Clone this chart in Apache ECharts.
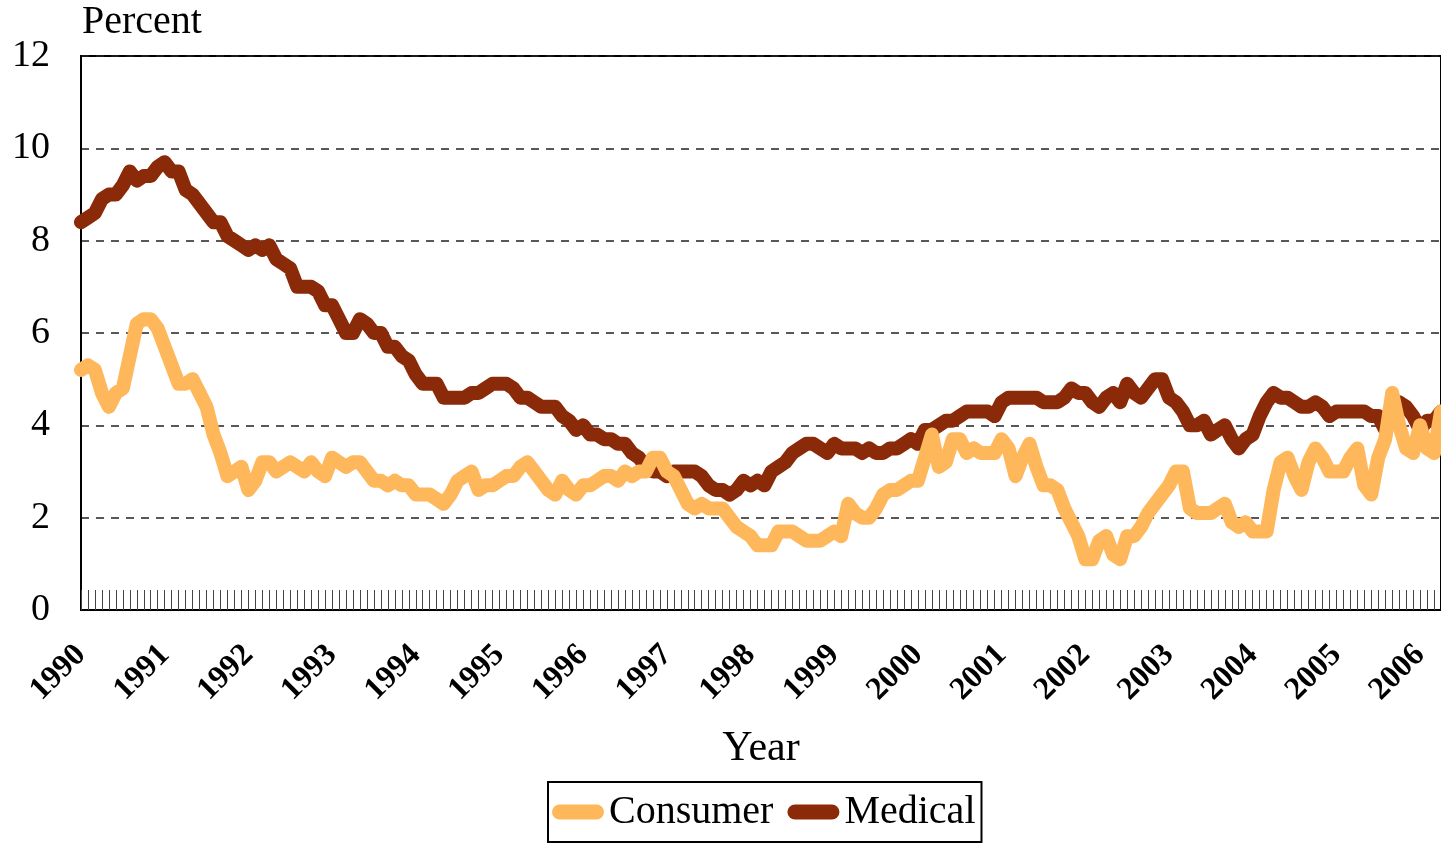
<!DOCTYPE html>
<html>
<head>
<meta charset="utf-8">
<title>Consumer vs Medical</title>
<script src="https://cdn.jsdelivr.net/npm/echarts@6/dist/echarts.min.js"></script>
<style>
  html, body { margin: 0; padding: 0; background: #fff; }
  #chart { width: 1441px; height: 843px; }
</style>
</head>
<body>
<div id="chart"></div>
<script>
// x axis: monthly from Jan 1990, one label per year
const startYear = 1990;
const monthCount = 196;
const yearLabels = ['1990', '1991', '1992', '1993', '1994', '1995', '1996', '1997', '1998',
  '1999', '2000', '2001', '2002', '2003', '2004', '2005', '2006'];
const months = [];
for (let i = 0; i < monthCount; i++) {
  const y = startYear + Math.floor(i / 12);
  const m = (i % 12) + 1;
  months.push(y + '-' + (m < 10 ? '0' + m : m));
}

const yTicks = [0, 2, 4, 6, 8, 10, 12];

// percent
const consumer = [
  5.2, 5.3, 5.2, 4.7, 4.4, 4.7, 4.8, 5.5, 6.2, 6.3, 6.3, 6.1,
  5.7, 5.3, 4.9, 4.9, 5.0, 4.7, 4.4, 3.8, 3.4, 2.9, 3.0, 3.1,
  2.6, 2.8, 3.2, 3.2, 3.0, 3.1, 3.2, 3.1, 3.0, 3.2, 3.0, 2.9,
  3.3, 3.2, 3.1, 3.2, 3.2, 3.0, 2.8, 2.8, 2.7, 2.8, 2.7, 2.7,
  2.5, 2.5, 2.5, 2.4, 2.3, 2.5, 2.8, 2.9, 3.0, 2.6, 2.7, 2.7,
  2.8, 2.9, 2.9, 3.1, 3.2, 3.0, 2.8, 2.6, 2.5, 2.8, 2.6, 2.5,
  2.7, 2.7, 2.8, 2.9, 2.9, 2.8, 3.0, 2.9, 3.0, 3.0, 3.3, 3.3,
  3.0, 2.9, 2.6, 2.3, 2.2, 2.3, 2.2, 2.2, 2.2, 2.0, 1.8, 1.7,
  1.6, 1.4, 1.4, 1.4, 1.7, 1.7, 1.7, 1.6, 1.5, 1.5, 1.5, 1.6,
  1.7, 1.6, 2.3, 2.1, 2.0, 2.0, 2.2, 2.5, 2.6, 2.6, 2.7, 2.8,
  2.8, 3.3, 3.8, 3.1, 3.2, 3.7, 3.7, 3.4, 3.5, 3.4, 3.4, 3.4,
  3.7, 3.5, 2.9, 3.3, 3.6, 3.1, 2.7, 2.7, 2.6, 2.2, 1.9, 1.6,
  1.1, 1.1, 1.5, 1.6, 1.2, 1.1, 1.6, 1.6, 1.8, 2.1, 2.3, 2.5,
  2.7, 3.0, 3.0, 2.2, 2.1, 2.1, 2.1, 2.2, 2.3, 1.9, 1.8, 1.9,
  1.7, 1.7, 1.7, 2.6, 3.2, 3.3, 2.9, 2.6, 3.2, 3.5, 3.3, 3.0,
  3.0, 3.0, 3.3, 3.5, 2.7, 2.5, 3.3, 3.7, 4.7, 4.0, 3.5, 3.4,
  4.0, 3.5, 3.4, 4.3
];
const medical = [
  8.4, 8.5, 8.6, 8.9, 9.0, 9.0, 9.2, 9.5, 9.3, 9.4, 9.4, 9.6,
  9.7, 9.5, 9.5, 9.1, 9.0, 8.8, 8.6, 8.4, 8.4, 8.1, 8.0, 7.9,
  7.8, 7.9, 7.8, 7.9, 7.6, 7.5, 7.4, 7.0, 7.0, 7.0, 6.9, 6.6,
  6.6, 6.3, 6.0, 6.0, 6.3, 6.2, 6.0, 6.0, 5.7, 5.7, 5.5, 5.4,
  5.1, 4.9, 4.9, 4.9, 4.6, 4.6, 4.6, 4.6, 4.7, 4.7, 4.8, 4.9,
  4.9, 4.9, 4.8, 4.6, 4.6, 4.5, 4.4, 4.4, 4.4, 4.2, 4.1, 3.9,
  4.0, 3.8, 3.8, 3.7, 3.7, 3.6, 3.6, 3.4, 3.3, 3.1, 3.0, 3.0,
  2.9, 3.0, 3.0, 3.0, 3.0, 2.9, 2.7, 2.6, 2.6, 2.5, 2.6, 2.8,
  2.7, 2.8, 2.7, 3.0, 3.1, 3.2, 3.4, 3.5, 3.6, 3.6, 3.5, 3.4,
  3.6, 3.5, 3.5, 3.5, 3.4, 3.5, 3.4, 3.4, 3.5, 3.5, 3.6, 3.7,
  3.6, 3.9, 3.9, 4.0, 4.1, 4.1, 4.2, 4.3, 4.3, 4.3, 4.3, 4.2,
  4.5, 4.6, 4.6, 4.6, 4.6, 4.6, 4.5, 4.5, 4.5, 4.6, 4.8, 4.7,
  4.7, 4.5, 4.4, 4.6, 4.7, 4.5, 4.9, 4.7, 4.6, 4.8, 5.0, 5.0,
  4.6, 4.5, 4.3, 4.0, 4.0, 4.1, 3.8, 3.9, 4.0, 3.7, 3.5, 3.7,
  3.8, 4.2, 4.5, 4.7, 4.6, 4.6, 4.5, 4.4, 4.4, 4.5, 4.4, 4.2,
  4.3, 4.3, 4.3, 4.3, 4.3, 4.2, 4.2, 3.9, 4.2, 4.5, 4.4, 4.2,
  3.9, 4.1, 4.1, 4.3
];

const serif = "'Liberation Serif', 'Times New Roman', serif";
const capsule = 'path://M7.5,0L44.5,0A7.5,7.5,0,0,1,44.5,15L7.5,15A7.5,7.5,0,0,1,7.5,0Z';

const chart = echarts.init(document.getElementById('chart'));
chart.setOption({
  animation: false,
  title: {
    text: 'Percent',
    left: 82,
    top: 2,
    padding: 0,
    textStyle: { fontFamily: serif, fontSize: 40, fontWeight: 'normal', color: '#000' }
  },
  grid: {
    left: 81, right: -2, top: 56, bottom: 233,
    show: true, borderColor: '#000', borderWidth: 2
  },
  legend: {
    data: ['Consumer', 'Medical'],
    left: 548,
    top: 782,
    icon: capsule,
    itemWidth: 52,
    itemHeight: 15,
    itemGap: 14,
    padding: [10, 6, 10, 4],
    borderColor: '#000',
    borderWidth: 2,
    textStyle: { fontFamily: serif, fontSize: 40, color: '#000' }
  },
  xAxis: {
    type: 'category',
    data: months,
    boundaryGap: false,
    name: 'Year',
    nameLocation: 'middle',
    nameGap: 118,
    nameTextStyle: { fontFamily: serif, fontSize: 42, color: '#000' },
    axisLine: { lineStyle: { color: '#000', width: 2 } },
    axisTick: { show: true, inside: true, interval: 0, length: 20, lineStyle: { color: '#444', width: 1 } },
    axisLabel: {
      interval: (idx) => idx % 12 === 0,
      formatter: (v) => yearLabels[parseInt(v.slice(0, 4), 10) - startYear],
      rotate: 45,
      margin: 40,
      fontFamily: serif,
      fontSize: 32,
      fontWeight: 'bold',
      color: '#000'
    },
    splitLine: { show: false }
  },
  yAxis: {
    type: 'value',
    min: yTicks[0],
    max: yTicks[yTicks.length - 1],
    interval: 2,
    axisLine: { show: true, lineStyle: { color: '#000', width: 2 } },
    axisTick: { show: false },
    axisLabel: { margin: 31, fontFamily: serif, fontSize: 38, color: '#000' },
    splitLine: { lineStyle: { color: '#222', width: 1.5, type: [8, 7] } }
  },
  series: [
    {
      name: 'Consumer',
      type: 'line',
      data: consumer,
      showSymbol: false,
      z: 3,
      color: '#FFB75C',
      lineStyle: { width: 14, cap: 'round', join: 'round' }
    },
    {
      name: 'Medical',
      type: 'line',
      data: medical,
      showSymbol: false,
      z: 2,
      color: '#8B2A08',
      lineStyle: { width: 14, cap: 'round', join: 'round' }
    }
  ]
});

window.addEventListener('resize', () => chart.resize());
</script>
</body>
</html>
